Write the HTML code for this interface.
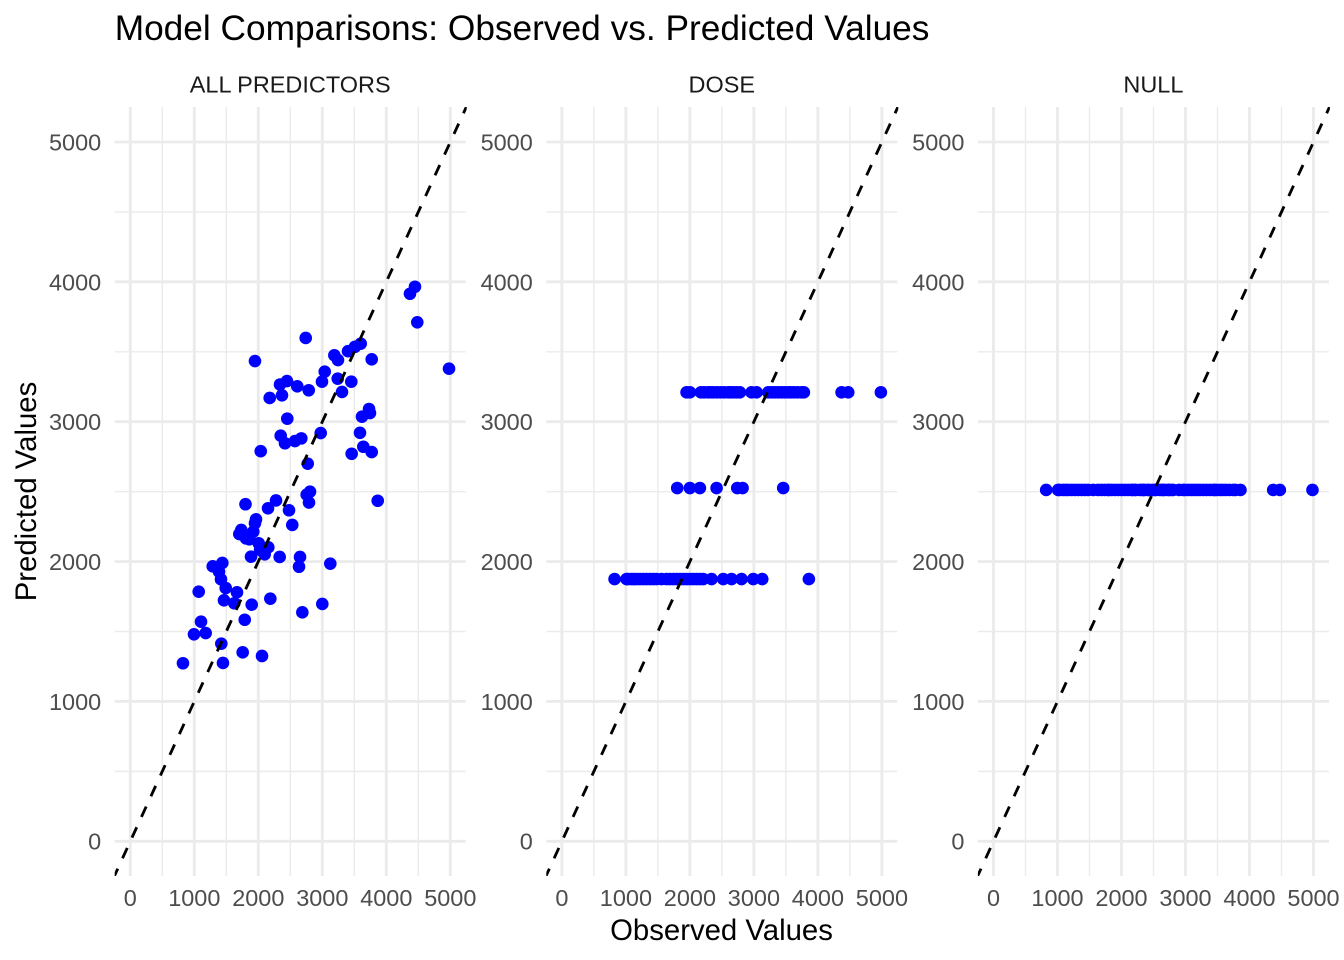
<!DOCTYPE html>
<html lang="en">
<head>
<meta charset="utf-8">
<title>Model Comparisons: Observed vs. Predicted Values</title>
<style>
  html, body { margin: 0; padding: 0; background: #fff; }
  svg { display: block; font-family: "Liberation Sans", Arial, sans-serif; }
</style>
</head>
<body>
<svg id="chart" xmlns="http://www.w3.org/2000/svg" width="1344" height="960" viewBox="0 0 1344 960">
  <rect x="0" y="0" width="1344" height="960" fill="#ffffff"/>
  <text x="114.7" y="40" font-size="35.28" fill="#000000">Model Comparisons: Observed vs. Predicted Values</text>
  <text x="721.5" y="940" font-size="29.33" fill="#000000" text-anchor="middle">Observed Values</text>
  <text transform="translate(36 491.5) rotate(-90)" font-size="29.33" fill="#000000" text-anchor="middle">Predicted Values</text>
</svg>
<script>
const panelTitles = ["ALL PREDICTORS", "DOSE", "NULL"];
const majorTicks = [0, 1000, 2000, 3000, 4000, 5000];
const minorTicks = [500, 1500, 2500, 3500, 4500];

const allObserved = [1948,2339,2448,2178,2370,2453,2350,2417,2038,1800,2277,2152,2480,2531,2756,2808,2792,1964,1948,1922,1734,1703,1808,1859,2006,2156,2027,2100,1886,2334,2652,2636,3125,1288,1438,1386,1417,1491,1667,1069,1464,1625,1897,2188,2688,3000,1788,1105,995,1178,1422,1756,2058,823,1448,4448,4370,4484,2741,3600,3511,3402,3188,3245,3772,4980,3038,2995,3241,3453,3308,2609,2788,3730,3745,3620,2975,3589,2573,2672,3641,3772,3459,2772,3866];
const allPredicted = [3434,3266,3291,3170,3189,3022,2900,2846,2789,2410,2437,2381,2367,2262,2478,2500,2422,2302,2274,2214,2226,2197,2166,2159,2131,2102,2083,2052,2035,2033,2033,1963,1985,1966,1990,1928,1873,1811,1780,1785,1723,1702,1692,1735,1637,1697,1584,1570,1480,1489,1413,1351,1325,1273,1275,3965,3915,3711,3599,3558,3536,3504,3475,3441,3446,3379,3358,3286,3308,3286,3213,3253,3225,3091,3062,3036,2919,2921,2862,2881,2821,2783,2771,2700,2435];

const doseHighObserved = [1948,2000,2172,2224,2286,2323,2365,2422,2479,2536,2599,2635,2677,2729,2781,2963,3042,3224,3276,3328,3380,3432,3484,3536,3578,3625,3682,3745,3781,4370,4474,4984];
const doseHighPredicted = [3210];
const doseMidObserved = [1802,2000,2156,2417,2740,2823,3458];
const doseMidPredicted = [2526];
const doseLowObserved = [823,1010,1036,1088,1127,1167,1219,1271,1323,1375,1427,1479,1557,1635,1687,1740,1792,1844,1896,1948,2000,2052,2104,2156,2208,2339,2521,2651,2807,2990,3130,3859];
const doseLowPredicted = [1875];

const nullObserved = [823,1010,1036,1088,1127,1167,1219,1271,1323,1375,1427,1479,1557,1635,1687,1740,1792,1802,1844,1896,1948,2000,2052,2104,2156,2172,2208,2224,2286,2323,2339,2365,2417,2422,2479,2521,2536,2599,2635,2651,2677,2729,2740,2781,2807,2900,2963,2990,3042,3090,3130,3177,3224,3276,3328,3380,3432,3458,3484,3536,3578,3625,3682,3745,3781,3859,4370,4474,4984];
const nullPredicted = [2512];

const svgNS = "http://www.w3.org/2000/svg";
const svg = document.getElementById("chart");

const PANEL_W = 351, PANEL_TOP = 107, PANEL_BOTTOM = 876, FIRST_LEFT = 114.7, PANEL_STEP = 431.6;
const X_ZERO_OFFSET = 15.6, X_SCALE = 0.064, Y_ZERO = 841.3, Y_SCALE = 0.13986;
const LINE_START = -269.6, LINE_END = 5400;

function xScale(panel, v) { return FIRST_LEFT + panel * PANEL_STEP + X_ZERO_OFFSET + v * X_SCALE; }
function yScale(v) { return Y_ZERO - v * Y_SCALE; }

function add(parent, tag, name, attrs, text) {
  const el = document.createElementNS(svgNS, tag);
  
  
  for (const k in attrs) el.setAttribute(k, attrs[k]);
  if (text !== undefined) el.textContent = text;
  parent.appendChild(el);
  return el;
}

function drawPoints(group, panel, xs, ys) {
  xs.forEach(function (x, i) {
    const y = ys.length === 1 ? ys[0] : ys[i];
    add(group, "circle", "data-point", { cx: xScale(panel, x), cy: yScale(y), r: 6.3, fill: "#0000ff" });
  });
}

const defs = document.createElementNS(svgNS, "defs");
svg.appendChild(defs);

panelTitles.forEach(function (title, p) {
  const left = FIRST_LEFT + p * PANEL_STEP;
  const right = left + PANEL_W;
  const slug = title.toLowerCase().replace(/\s+/g, "-");
  const g = add(svg, "g", "panel-" + slug, {});

  add(g, "text", "panel-title-" + slug, {
    x: left + PANEL_W / 2, y: 92.6, "font-size": 23.47, fill: "#1a1a1a", "text-anchor": "middle"
  }, title);

  minorTicks.forEach(function (t) {
    add(g, "line", "minor-gridline-x", { x1: xScale(p, t), x2: xScale(p, t), y1: PANEL_TOP, y2: PANEL_BOTTOM, stroke: "#ebebeb", "stroke-width": 1.42 });
    add(g, "line", "minor-gridline-y", { x1: left, x2: right, y1: yScale(t), y2: yScale(t), stroke: "#ebebeb", "stroke-width": 1.42 });
  });
  majorTicks.forEach(function (t) {
    add(g, "line", "major-gridline-x", { x1: xScale(p, t), x2: xScale(p, t), y1: PANEL_TOP, y2: PANEL_BOTTOM, stroke: "#ebebeb", "stroke-width": 2.85 });
    add(g, "line", "major-gridline-y", { x1: left, x2: right, y1: yScale(t), y2: yScale(t), stroke: "#ebebeb", "stroke-width": 2.85 });
  });

  majorTicks.forEach(function (t) {
    add(g, "text", "x-tick-label", { x: xScale(p, t), y: 906, "font-size": 23.47, fill: "#4d4d4d", "text-anchor": "middle" }, String(t));
    add(g, "text", "y-tick-label", { x: left - 13.5, y: yScale(t) + 8.4, "font-size": 23.47, fill: "#4d4d4d", "text-anchor": "end" }, String(t));
  });

  const points = add(g, "g", "points-" + slug, {});
  if (p === 0) {
    drawPoints(points, p, allObserved, allPredicted);
  } else if (p === 1) {
    drawPoints(points, p, doseHighObserved, doseHighPredicted);
    drawPoints(points, p, doseMidObserved, doseMidPredicted);
    drawPoints(points, p, doseLowObserved, doseLowPredicted);
  } else {
    drawPoints(points, p, nullObserved, nullPredicted);
  }

  const clipId = "clip-" + p;
  const clip = document.createElementNS(svgNS, "clipPath");
  clip.setAttribute("id", clipId);
  const clipRect = document.createElementNS(svgNS, "rect");
  clipRect.setAttribute("x", left);
  clipRect.setAttribute("y", PANEL_TOP);
  clipRect.setAttribute("width", PANEL_W + 1);
  clipRect.setAttribute("height", PANEL_BOTTOM - PANEL_TOP);
  clip.appendChild(clipRect);
  defs.appendChild(clip);

  add(g, "line", "identity-line", {
    x1: xScale(p, LINE_START), y1: yScale(LINE_START), x2: xScale(p, LINE_END), y2: yScale(LINE_END),
    stroke: "#000000", "stroke-width": 2.85, "stroke-dasharray": "11.38 11.38", "clip-path": "url(#" + clipId + ")"
  });
});
</script>
</body>
</html>
